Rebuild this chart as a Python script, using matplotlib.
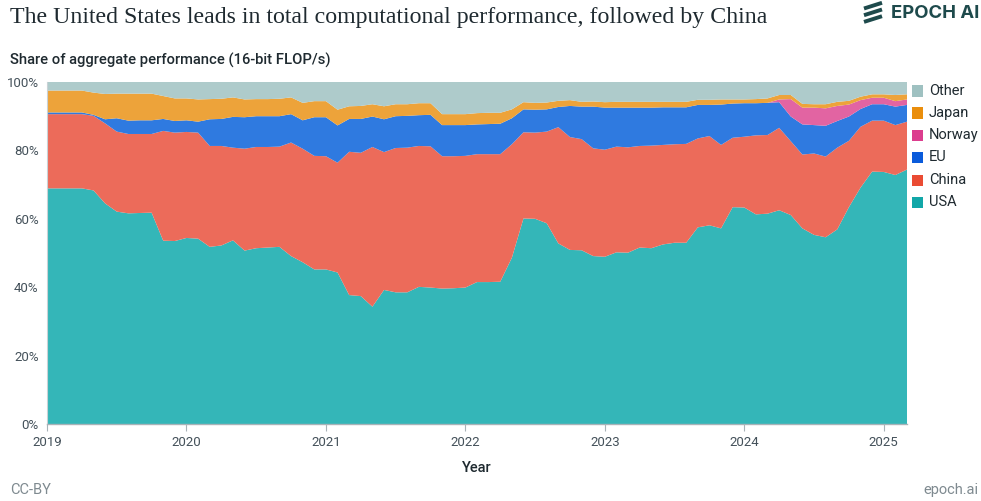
import numpy as np
import pandas as pd
import matplotlib
matplotlib.use("Agg")
import matplotlib.pyplot as plt
from matplotlib.patches import Rectangle
from matplotlib.lines import Line2D

# ---------------- data (monthly, Jan 2019 - Mar 2025), share in % ----------------
months = pd.date_range("2019-01-01", periods=75, freq="MS")

usa = [68.9, 68.9, 68.9, 68.9, 68.3, 64.5, 62.1, 61.6, 61.7, 61.8, 53.6, 53.5,
       54.4, 54.2, 51.8, 52.2, 53.7, 50.7, 51.4, 51.6, 51.8, 49.1, 47.3, 45.2,
       45.2, 44.3, 37.7, 37.4, 34.3, 39.2, 38.5, 38.5, 40.1, 39.9, 39.6, 39.7,
       39.9, 41.5, 41.5, 41.6, 48.6, 60.1, 60.0, 58.7, 52.8, 50.9, 50.8, 49.1,
       48.9, 50.2, 50.1, 51.6, 51.4, 52.5, 53.0, 53.0, 57.5, 58.1, 57.2, 63.4,
       63.3, 61.3, 61.5, 62.5, 61.1, 57.2, 55.3, 54.6, 56.9, 63.4, 69.1, 73.8,
       73.7, 72.8, 74.4]

china = [21.7, 21.7, 21.7, 21.7, 21.8, 23.4, 23.4, 23.2, 23.1, 23.0, 32.1, 31.7,
         31.0, 31.0, 29.5, 29.1, 27.1, 29.8, 29.6, 29.4, 29.3, 33.2, 33.2, 33.2,
         33.1, 32.1, 41.9, 41.9, 46.7, 40.3, 42.2, 42.3, 41.2, 41.3, 38.7, 38.6,
         38.5, 37.4, 37.4, 37.3, 33.2, 25.2, 25.2, 26.8, 34.0, 33.0, 32.5, 31.5,
         31.3, 30.9, 30.8, 29.7, 30.0, 29.1, 28.8, 28.9, 26.0, 26.1, 24.4, 20.3,
         20.7, 23.1, 23.0, 24.1, 21.6, 21.6, 23.8, 23.6, 23.9, 19.4, 17.8, 14.9,
         15.0, 14.6, 14.0]

eu = [0.5, 0.5, 0.5, 0.5, 0.3, 1.2, 3.9, 3.9, 4.0, 4.0, 3.5, 3.4,
      3.4, 3.2, 7.8, 7.9, 9.0, 9.2, 9.0, 9.0, 8.9, 8.3, 8.3, 11.3,
      11.4, 10.9, 9.6, 9.9, 8.9, 9.6, 9.3, 9.3, 9.0, 9.2, 9.1, 9.1,
      9.0, 8.7, 8.8, 8.9, 7.6, 6.7, 6.7, 6.5, 5.9, 9.1, 9.5, 12.2,
      12.3, 11.4, 11.6, 11.2, 11.1, 11.0, 10.8, 10.7, 9.8, 9.1, 11.8, 10.0,
      9.8, 9.4, 9.4, 7.5, 7.2, 8.8, 8.3, 9.0, 7.8, 7.1, 5.2, 4.8,
      4.8, 5.4, 4.9]

norway = [0.0] * 63 + [0.8, 5.1, 4.9, 5.1, 5.1, 4.4, 3.5, 2.6, 1.9, 1.9, 1.6, 1.6]

japan = [6.4, 6.4, 6.4, 6.4, 6.5, 7.4, 7.2, 7.9, 7.8, 7.8, 6.7, 6.6,
         6.4, 6.5, 5.9, 5.9, 5.7, 5.2, 5.0, 5.0, 5.1, 4.9, 5.1, 4.7,
         4.7, 4.6, 3.7, 3.8, 3.6, 3.8, 3.5, 3.4, 3.5, 3.4, 3.2, 3.2,
         3.2, 3.3, 3.3, 3.2, 2.6, 2.1, 2.0, 2.0, 1.8, 1.7, 1.4, 1.5,
         1.6, 1.7, 1.7, 1.7, 1.7, 1.6, 1.6, 1.6, 1.5, 1.5, 1.5, 1.2,
         1.1, 1.2, 1.3, 1.3, 1.2, 1.1, 1.0, 1.2, 1.2, 1.1, 1.0, 1.0,
         1.0, 1.8, 1.5]

other = [2.5, 2.5, 2.5, 2.5, 3.1, 3.5, 3.4, 3.4, 3.4, 3.4, 4.1, 4.8,
         4.8, 5.1, 5.0, 4.9, 4.5, 5.1, 5.0, 5.0, 4.9, 4.5, 6.1, 5.6,
         5.6, 8.1, 7.1, 7.0, 6.5, 7.1, 6.5, 6.5, 6.2, 6.2, 9.4, 9.4,
         9.4, 9.1, 9.0, 9.0, 8.0, 5.9, 6.1, 6.0, 5.5, 5.3, 5.8, 5.7,
         5.9, 5.8, 5.8, 5.8, 5.8, 5.8, 5.8, 5.8, 5.2, 5.2, 5.1, 5.1,
         5.1, 5.0, 4.8, 3.8, 3.8, 6.4, 6.5, 6.5, 5.8, 5.5, 4.3, 3.6,
         3.6, 3.8, 3.6]

series_names = ["USA", "China", "EU", "Norway", "Japan", "Other"]
year_ticks = [2019, 2020, 2021, 2022, 2023, 2024, 2025]
pct_ticks = [0, 20, 40, 60, 80, 100]

# ---------------- style ----------------
area_colors = ["#34b6b8", "#ec6b5a", "#2f7ae0", "#e264a2", "#eda33a", "#aecbcb"]
legend_colors = ["#12a7a8", "#ea4b33", "#0a5bdb", "#dc3d8e", "#ea8e0c", "#9fc1c1"]
text_dark = "#1f2a30"
tick_col = "#44515a"
grey = "#7f8a90"
sans = ["Roboto", "DejaVu Sans"]

plt.rcParams["font.family"] = sans

W, H = 981, 501
fig = plt.figure(figsize=(W / 100, H / 100), dpi=100)
fig.patch.set_facecolor("white")


def fx(px):
    return px / W


def fy(py):
    return 1 - py / H


ax = fig.add_axes([fx(47), fy(424), fx(907) - fx(47), fy(82) - fy(424)])

x = months.year + (months.month - 1) / 12.0
ax.stackplot(x, usa, china, eu, norway, japan, other,
             colors=area_colors, linewidth=0, antialiased=True)

ax.set_xlim(x[0], x[-1])
ax.set_ylim(0, 100)
ax.set_xticks(year_ticks)
ax.set_xticklabels([str(y) for y in year_ticks])
ax.set_yticks(pct_ticks)
ax.set_yticklabels([f"{p}%" for p in pct_ticks])
ax.tick_params(axis="x", length=5, width=0.8, color="#a9b3b8", pad=4,
               labelsize=9.5, labelcolor=tick_col)
ax.tick_params(axis="y", length=0, pad=6, labelsize=9.5, labelcolor=tick_col)
for s in ["top", "right"]:
    ax.spines[s].set_visible(False)
ax.spines["bottom"].set_color("#a9b3b8")
ax.spines["left"].set_color("#c9d2d6")
ax.spines["bottom"].set_linewidth(1.0)
ax.spines["left"].set_linewidth(0.8)

ax.set_xlabel("Year", fontsize=10.5, color=text_dark, fontweight="medium", labelpad=8)

# ---------------- titles / texts ----------------
fig.text(fx(10), fy(18), "The United States leads in total computational performance, followed by China",
         fontsize=17.2, family=["Liberation Serif", "DejaVu Serif"], color=text_dark,
         ha="left", va="center")
fig.text(fx(10), fy(60), "Share of aggregate performance (16-bit FLOP/s)",
         fontsize=10.6, color=text_dark, fontweight="medium", ha="left", va="center")
fig.text(fx(10), fy(490), "CC-BY", fontsize=10.5, color=grey, ha="left", va="center")
fig.text(fx(978), fy(490), "epoch.ai", fontsize=10.5, color=grey, ha="right", va="center")

# logo
logo_col = "#1e4a4c"
fig.text(fx(979), fy(13), "EPOCH AI", fontsize=13.3, color=logo_col, fontweight="bold",
         family=["Inter", "DejaVu Sans"], ha="right", va="center")
for dy in (0, 6.7, 13.4):
    fig.add_artist(Line2D([fx(864), fx(882)], [fy(8.5 + dy), fy(2.8 + dy)],
                          color=logo_col, linewidth=2.8, solid_capstyle="butt",
                          transform=fig.transFigure))

# ---------------- legend ----------------
legend_y = [202, 180, 157, 135, 113, 91]
for name, col, yy in zip(series_names, legend_colors, legend_y):
    fig.add_artist(Rectangle((fx(912), fy(yy + 5.5)), fx(11), fy(0) - fy(11),
                             facecolor=col, edgecolor="none", transform=fig.transFigure))
    fig.text(fx(929), fy(yy), name, fontsize=10.5, color=text_dark, ha="left", va="center")

fig.savefig("out.png", dpi=100, facecolor="white")
